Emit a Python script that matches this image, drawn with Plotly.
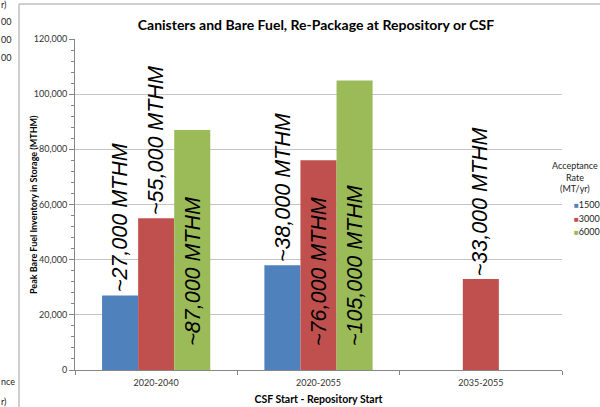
import plotly.graph_objects as go

# Peak bare fuel inventory (MTHM) by CSF start - repository start scenario
categories = ["2020-2040", "2020-2055", "2035-2055"]
rates = ["1500", "3000", "6000"]
inventory_1500 = [27000, 38000, None]
inventory_3000 = [55000, 76000, 33000]
inventory_6000 = [87000, 105000, None]
labels_1500 = ["~27,000 MTHM", "~38,000 MTHM", None]
labels_3000 = ["~55,000 MTHM", "~76,000 MTHM", "~33,000 MTHM"]
labels_6000 = ["~87,000 MTHM", "~105,000 MTHM", None]
# label placement: True = inside the bar near its base, False = above the bar
inside_1500 = [False, False, False]
inside_3000 = [False, True, False]
inside_6000 = [True, True, False]

colors = ["#4F81BD", "#C0504D", "#9BBB59"]
series = [inventory_1500, inventory_3000, inventory_6000]
label_sets = [labels_1500, labels_3000, labels_6000]
inside_sets = [inside_1500, inside_3000, inside_6000]

W, H = 600, 407
L, R, T, B = 75, 38, 39, 37
pw, ph = W - L - R, H - T - B

def px_x(x):
    return (x - L) / pw

def px_y(y):
    return (H - B - y) / ph

fig = go.Figure()
for name, vals, col in zip(rates, series, colors):
    fig.add_trace(go.Bar(x=categories, y=vals, name=name, marker_color=col,
                         marker_line_width=0, showlegend=False))

bar_px = pw / len(categories) * (2 / 3) / 3
annotations = []
for k, (vals, labs, ins) in enumerate(zip(series, label_sets, inside_sets)):
    for cat, v, lab, inside in zip(categories, vals, labs, ins):
        if v is None or lab is None:
            continue
        annotations.append(dict(
            x=cat, y=0 if inside else v, xref="x", yref="y",
            text=lab, showarrow=False, textangle=-90,
            xanchor="center", yanchor="bottom",
            xshift=(k - 1) * bar_px, yshift=22 if inside else 1,
            font=dict(family="Liberation Sans, Arial", size=21.5, color="#000000",
                      style="italic"),
        ))

small = dict(family="Lato", size=9, color="#222222")

# legend: title and colour keys for the acceptance rates
annotations.append(dict(x=px_x(575), y=px_y(158), xref="paper", yref="paper",
                        text="Acceptance<br>Rate<br>(MT/yr)", align="center",
                        showarrow=False, xanchor="center", yanchor="top",
                        font=small))
for i, (name, col) in enumerate(zip(rates, colors)):
    annotations.append(dict(
        x=px_x(572), y=px_y(204 + 14 * i), xref="paper", yref="paper",
        text=f'<span style="color:{col};font-size:8px">■</span>{name}',
        showarrow=False, xanchor="left", yanchor="middle", font=small))

# fragments of the neighbouring chart's legend along the left edge
for txt, yp in [("r)", 4), ("00", 21), ("00", 39), ("00", 57),
                ("nce", 381), ("r)", 401)]:
    annotations.append(dict(x=px_x(0), y=px_y(yp), xref="paper", yref="paper",
                            text=txt, showarrow=False, xanchor="left",
                            yanchor="middle", borderpad=0, font=small))

# y-axis title
annotations.append(dict(x=px_x(33), y=px_y(205), xref="paper", yref="paper",
                        text="<b>Peak Bare Fuel Inventory in Storage (MTHM)</b>",
                        textangle=-90, showarrow=False, xanchor="center",
                        yanchor="middle",
                        font=dict(family="Lato", size=9, color="#000000")))

frame = dict(color="#BFBFBF", width=1.5)
shapes = [
    dict(type="line", xref="paper", yref="paper", x0=px_x(19), x1=px_x(601),
         y0=px_y(4), y1=px_y(4), line=frame),
    dict(type="line", xref="paper", yref="paper", x0=px_x(19), x1=px_x(19),
         y0=px_y(4), y1=px_y(408), line=frame),
]

tick_font = dict(family="Lato", size=9, color="#333333")
fig.update_layout(
    width=W, height=H,
    margin=dict(l=L, r=R, t=T, b=B, autoexpand=False),
    paper_bgcolor="white", plot_bgcolor="white",
    barmode="group", bargap=1 / 3, bargroupgap=0,
    title=dict(text="<b>Canisters and Bare Fuel, Re-Package at Repository or CSF</b>",
               x=316 / W, xanchor="center", y=1 - 25 / H, yanchor="middle",
               font=dict(family="Lato", size=14, color="#000000")),
    xaxis=dict(type="category", showline=True, linecolor="#868686", linewidth=1,
               ticks="outside", tickson="boundaries", ticklen=4, tickcolor="#868686",
               tickfont=tick_font, showgrid=False, ticklabelstandoff=4,
               automargin=False,
               title=dict(text="<b>CSF Start - Repository Start</b>", standoff=8,
                          font=dict(family="Lato", size=10.5, color="#000000"))),
    yaxis=dict(range=[0, 120000], dtick=20000, tickformat=",d",
               showline=True, linecolor="#868686", linewidth=1,
               ticks="outside", ticklen=5, tickcolor="#868686",
               minor=dict(dtick=4000, ticks="outside", ticklen=3,
                          tickcolor="#868686", showgrid=False),
               showgrid=True, gridcolor="#C4C4C4", gridwidth=1, zeroline=False,
               tickfont=tick_font, automargin=False),
    annotations=annotations,
    shapes=shapes,
    showlegend=False,
)

fig.write_html("out.html")
